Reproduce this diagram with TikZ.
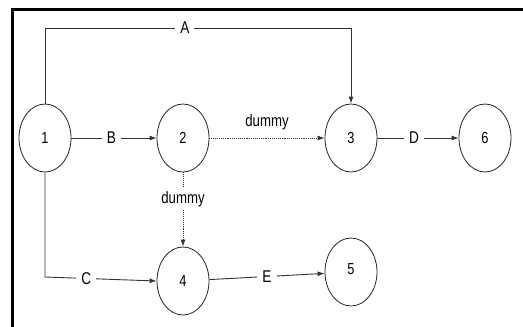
\documentclass[tikz,border=0pt]{standalone}
\usepackage{fontspec}
\setmainfont[FakeStretch=0.8]{Liberation Sans}
\usetikzlibrary{arrows.meta,shapes.geometric}
\begin{document}
\begin{tikzpicture}[x=1pt,y=-1pt,
  ev/.style={draw=black!85,line width=0.8pt,ellipse,minimum width=52pt,minimum height=68pt,inner sep=0pt,font=\fontsize{16}{16}\selectfont},
  arr/.style={draw=black!80,line width=0.9pt,-{Latex[length=7pt,width=5pt]}},
  dum/.style={densely dotted},
  lbl/.style={fill=white,inner sep=5pt,font=\fontsize{17}{17}\selectfont},
  dlbl/.style={fill=white,inner sep=3pt,font=\fontsize{16.5}{16.5}\selectfont}]
\useasboundingbox (0,0) rectangle (523,327);
\fill[white] (0,0) rectangle (523,327);
\draw[line width=3pt] (12,327) -- (12,9) -- (523,9);
% events
\node[ev] (n1) at (45,138) {1};
\node[ev] (n2) at (183,138) {2};
\node[ev] (n3) at (351,138) {3};
\node[ev] (n6) at (485,138) {6};
\node[ev] (n4) at (183,281) {4};
\node[ev] (n5) at (351,272) {\raisebox{6pt}{5}};
% corner points
\coordinate (a1) at (45,28);
\coordinate (a2) at (351,28);
\coordinate (c1) at (45,277);
% activities
\draw[arr] (n1.north) -- (a1) -- node[lbl,pos=0.457]{A} (a2) -- (n3.north);
\draw[arr] (n1) -- node[lbl,pos=0.47]{B} (n2);
\draw[arr,dum] (n2) -- node[dlbl,above=5pt,fill=none]{dummy} (n3);
\draw[arr] (n3) -- node[lbl,pos=0.45]{D} (n6);
\draw[arr] (n1.south) -- (c1) -- node[lbl,pos=0.37]{C} (n4.west);
\draw[arr,dum] (n2.south) -- node[dlbl,pos=0.36]{dummy} (n4.north);
\draw[arr] (n4) -- node[lbl]{E} (n5);
\end{tikzpicture}
\end{document}
